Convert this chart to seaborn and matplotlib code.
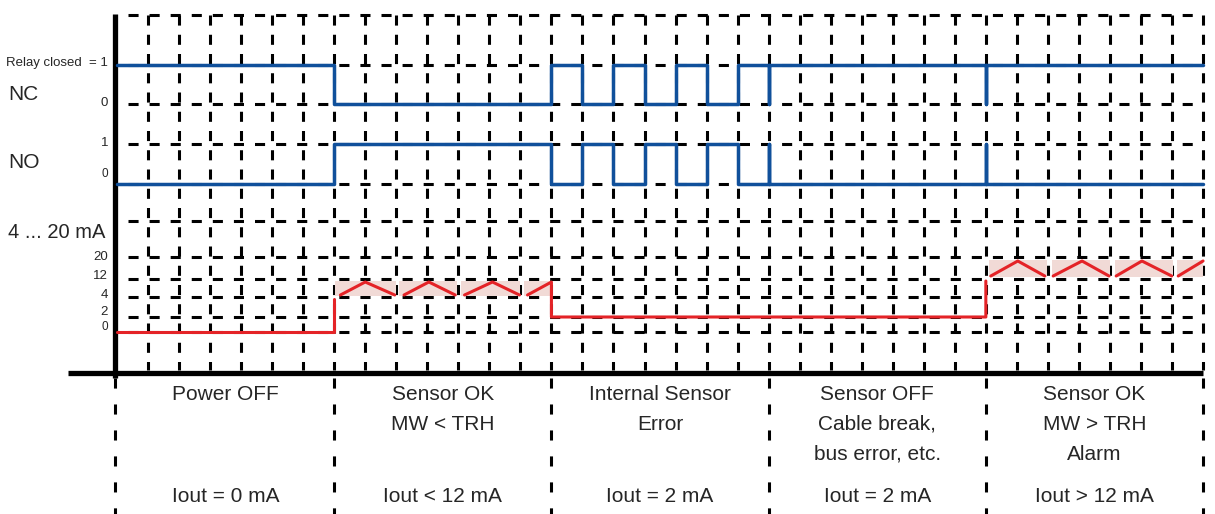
import numpy as np
import pandas as pd
import matplotlib
matplotlib.use("Agg")
import matplotlib.pyplot as plt
import seaborn as sns

sns.set_style("white")
plt.rcParams["font.family"] = ["Liberation Sans", "DejaVu Sans"]

BLUE = "#10509b"
RED = "#e42327"
PINK = "#f1dad6"

# time axis: one grid column = one time unit, 7 columns per state
section_edges = [0, 7, 14, 21, 28, 35]
section_text = [["Power OFF"],
                ["Sensor OK", "MW < TRH"],
                ["Internal Sensor", "Error"],
                ["Sensor OFF", "Cable break,", "bus error, etc."],
                ["Sensor OK", "MW > TRH", "Alarm"]]
iout_text = ["Iout = 0 mA", "Iout < 12 mA", "Iout = 2 mA", "Iout = 2 mA", "Iout > 12 mA"]

# relay states (steps-post), NO is the inverse of NC
nc_t = [0, 7, 14, 15, 16, 17, 18, 19, 20, 21, 21, 28, 28, 35]
nc_state = [1, 0, 1, 0, 1, 0, 1, 0, 1, 0, 1, 0, 1, 1]
no_state = [1 - s for s in nc_state]

# lane rows (diagram rows, top = 0)
nc_rows = {1: 65, 0: 104}
no_rows = {1: 144, 0: 184}
ma_rows = {0: 332, 2: 317, 4: 297, 12: 279, 20: 257}
grid_rows = [15, 65, 104, 144, 184, 221, 257, 279, 297, 317, 332]

# current output: zigzag teeth (start, peak, end) inside the bands
ok_teeth = [(7.2, 8.0, 8.95), (9.25, 10.05, 10.9), (11.2, 12.1, 12.97)]
alarm_teeth = [(28.16, 29.03, 29.9), (30.17, 31.1, 31.97), (32.2, 33.03, 33.99)]
ok_zig = (295, 282)      # low, high row
alarm_zig = (276, 261)
ok_bands = [(7.03, 9.0), (9.1, 10.96), (11.09, 12.99), (13.12, 14.02)]
alarm_bands = [(28.1, 29.97), (30.13, 32.0), (32.16, 34.03), (34.16, 35.0)]
ok_band_rows = (281, 296)
alarm_band_rows = (260, 277)

# build red trace segments
segs = []
segs.append(([0, 7, 7], [ma_rows[0], ma_rows[0], 299]))
for a, p, b in ok_teeth:
    segs.append(([a, p, b], [ok_zig[0], ok_zig[1], ok_zig[0]]))
segs.append(([13.23, 14, 14, 28, 28],
              [ok_zig[0], ok_zig[1], ma_rows[2], ma_rows[2], 281]))
for a, p, b in alarm_teeth:
    segs.append(([a, p, b], [alarm_zig[0], alarm_zig[1], alarm_zig[0]]))
segs.append(([34.2, 35], [alarm_zig[0], alarm_zig[1]]))
rows = []
for i, (ts, ys) in enumerate(segs):
    for k, (t, y) in enumerate(zip(ts, ys)):
        rows.append({"t": t, "y": y, "seg": i, "order": k})
red_df = pd.DataFrame(rows)

fig = plt.figure(figsize=(12.15, 5.14), dpi=100)
ax = fig.add_axes([0, 0, 1, 1])
px = 31.03  # pixels per time unit
ax.set_xlim(-117 / px, (1215 - 117) / px)
ax.set_ylim(514, 0)
ax.set_axis_off()

# dashed grid
dash = (0, (3.3, 3.6))
for r in grid_rows:
    ax.hlines(r, 0.35, 35, colors="black", lw=2.2, linestyles=[dash], zorder=0)
for t in range(1, 36):
    ax.vlines(t, 15, 370, colors="black", lw=2.2, linestyles=[(0, (3.3, 3.0))], zorder=0)

# frame lines
ax.hlines(372.5, -49 / px, 35, colors="black", lw=3.8, zorder=3)
ax.vlines(-0.05, 14, 378, colors="black", lw=3.8, zorder=3)
for e in section_edges:
    ax.vlines(e - (0.05 if e == 0 else 0), 378, 514, colors="black", lw=2.2,
              linestyles=[(0, (3.3, 5.2))], zorder=0)

# pink bands
for a, b in ok_bands:
    ax.fill_between([a, b], ok_band_rows[0], ok_band_rows[1], color=PINK, lw=0, zorder=1)
for a, b in alarm_bands:
    ax.fill_between([a, b], alarm_band_rows[0], alarm_band_rows[1], color=PINK, lw=0, zorder=1)

# relay traces
sns.lineplot(x=nc_t, y=[nc_rows[s] for s in nc_state], drawstyle="steps-post",
             estimator=None, sort=False, color=BLUE, lw=2.5, ax=ax, zorder=4)
sns.lineplot(x=nc_t, y=[no_rows[s] for s in no_state], drawstyle="steps-post",
             estimator=None, sort=False, color=BLUE, lw=2.5, ax=ax, zorder=4)

# current trace
sns.lineplot(data=red_df, x="t", y="y", units="seg", estimator=None, sort=False,
             color=RED, lw=2.2, ax=ax, zorder=4, legend=False)
ax.set_xlim(-117 / px, (1215 - 117) / px)
ax.set_ylim(514, 0)
ax.set_axis_off()

# left labels
lx = 8 / px - 117 / px
rx = -9 / px
ax.text(lx, 95, "NC", fontsize=15, va="center", ha="left")
ax.text(lx, 163, "NO", fontsize=15, va="center", ha="left")
ax.text(lx, 232, "4 ... 20 mA", fontsize=14.5, va="center", ha="left")
ax.text(rx, 63, "Relay closed  = 1", fontsize=9.5, va="center", ha="right")
ax.text(rx, 103, "0", fontsize=9.5, va="center", ha="right")
ax.text(rx, 143, "1", fontsize=9.5, va="center", ha="right")
ax.text(rx, 174, "0", fontsize=8.5, va="center", ha="right")
for lvl, row in zip([20, 12, 4, 2, 0], [257, 276, 295, 312, 327]):
    ax.text(rx, row, str(lvl), fontsize=9.5 if lvl else 8.5, va="center", ha="right")

# state descriptions
for i in range(5):
    cx = (section_edges[i] + section_edges[i + 1]) / 2
    for j, line in enumerate(section_text[i]):
        ax.text(cx, 395 + 29.5 * j, line, fontsize=15, ha="center", va="center")
    ax.text(cx, 497, iout_text[i], fontsize=15, ha="center", va="center")

fig.savefig("out.png", dpi=100)
